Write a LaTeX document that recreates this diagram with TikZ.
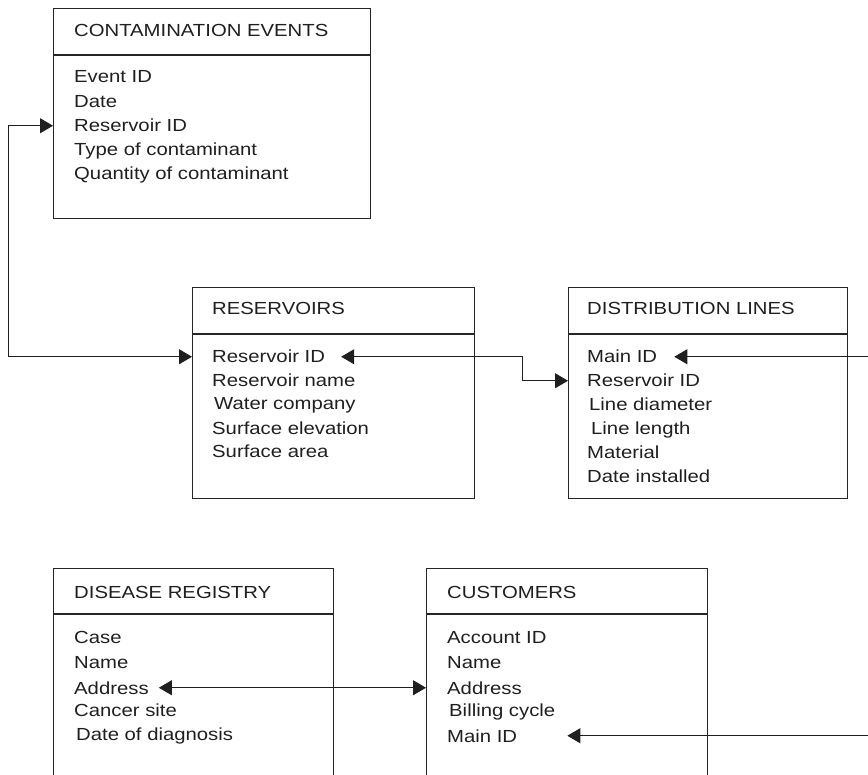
\documentclass[tikz,border=0pt]{standalone}
\usepackage{fontspec}
\setmainfont{Liberation Sans}[FakeStretch=1.16]
\usetikzlibrary{arrows.meta}
\begin{document}
\begin{tikzpicture}[x=1pt,y=-1pt,
  tbl/.style={draw=black!85, line width=1.3pt, rectangle, anchor=north west, inner sep=0pt},
  sepline/.style={draw=black!85, line width=1.3pt},
  fld/.style={anchor=base west, inner sep=0pt, text height=12.5pt, text depth=0pt,
    font=\fontsize{17.5}{20}\selectfont, text=black!88},
  conn/.style={line width=0.9pt, draw=black!88},
  tipend/.style={-{Triangle[length=13pt,width=15pt]}},
  tipboth/.style={{Triangle[length=13pt,width=15pt]}-{Triangle[length=13pt,width=15pt]}}]
\useasboundingbox (0,0) rectangle (868,775);
\clip (0,0) rectangle (868,775);

% ---------- boxes ----------
\node[tbl, minimum width=317pt, minimum height=210pt] (ce) at (53,8) {};
\node[tbl, minimum width=282pt, minimum height=211pt] (res) at (192,287) {};
\node[tbl, minimum width=279pt, minimum height=211pt] (dl) at (568,287) {};
\node[tbl, minimum width=280pt, minimum height=240pt] (dr) at (53,568) {};
\node[tbl, minimum width=281pt, minimum height=240pt] (cu) at (426,568) {};

\draw[sepline] (ce.west |- 0,55) -- (ce.east |- 0,55);
\draw[sepline] (res.west |- 0,334) -- (res.east |- 0,334);
\draw[sepline] (dl.west |- 0,334) -- (dl.east |- 0,334);
\draw[sepline] (dr.west |- 0,614) -- (dr.east |- 0,614);
\draw[sepline] (cu.west |- 0,614) -- (cu.east |- 0,614);

% ---------- CONTAMINATION EVENTS ----------
\node[fld] (ceH) at (74,37) {CONTAMINATION EVENTS};
\node[fld] (ceEv) at (74,83) {Event ID};
\node[fld] (ceDa) at (74,108) {Date};
\node[fld] (ceRid) at (74,132) {Reservoir ID};
\node[fld] (ceTy) at (74,156) {Type of contaminant};
\node[fld] (ceQu) at (74,180) {Quantity of contaminant};

% ---------- RESERVOIRS ----------
\node[fld] (resH) at (212,315) {RESERVOIRS};
\node[fld] (resRid) at (212,363) {Reservoir ID};
\node[fld] (resNa) at (212,387) {Reservoir name};
\node[fld] (resWc) at (214,410) {Water company};
\node[fld] (resSe) at (212,435) {Surface elevation};
\node[fld] (resSa) at (212,458) {Surface area};

% ---------- DISTRIBUTION LINES ----------
\node[fld] (dlH) at (587,315) {DISTRIBUTION LINES};
\node[fld] (dlMain) at (587,363) {Main ID};
\node[fld] (dlRid) at (587,387) {Reservoir ID};
\node[fld] (dlDi) at (589,411) {Line diameter};
\node[fld] (dlLe) at (591,435) {Line length};
\node[fld] (dlMa) at (587,459) {Material};
\node[fld] (dlDa) at (587,483) {Date installed};

% ---------- DISEASE REGISTRY ----------
\node[fld] (drH) at (74,598) {DISEASE REGISTRY};
\node[fld] (drCa) at (74,643) {Case};
\node[fld] (drNa) at (74,668) {Name};
\node[fld] (drAd) at (74,694) {Address};
\node[fld] (drCs) at (74,716) {Cancer site};
\node[fld] (drDd) at (76,740) {Date of diagnosis};

% ---------- CUSTOMERS ----------
\node[fld] (cuH) at (447,598) {CUSTOMERS};
\node[fld] (cuAc) at (447,643) {Account ID};
\node[fld] (cuNa) at (447,668) {Name};
\node[fld] (cuAd) at (447,694) {Address};
\node[fld] (cuBc) at (449,716) {Billing cycle};
\node[fld] (cuMain) at (447,742) {Main ID};

% ---------- connectors ----------
\coordinate (loopx) at (8,0);
\coordinate (bendx) at (522,0);
\coordinate (edgeR) at (868,0);

\draw[conn, tipboth] (ce.west |- ceRid.west) -- (loopx |- ceRid.west)
  -- (loopx |- resRid.west) -- (res.west |- resRid.west);
\draw[conn, tipboth] ([xshift=16pt]resRid.east) -- (bendx |- resRid.east)
  -- (bendx |- dlRid.west) -- (dl.west |- dlRid.west);
\draw[conn, tipend] (edgeR |- dlMain.east) -- ([xshift=17pt]dlMain.east);
\draw[conn, tipboth] ([xshift=10pt]drAd.east) -- (cu.west |- drAd.east);
\draw[conn, tipend] (edgeR |- cuMain.east) -- ([xshift=50pt]cuMain.east);
\end{tikzpicture}
\end{document}
